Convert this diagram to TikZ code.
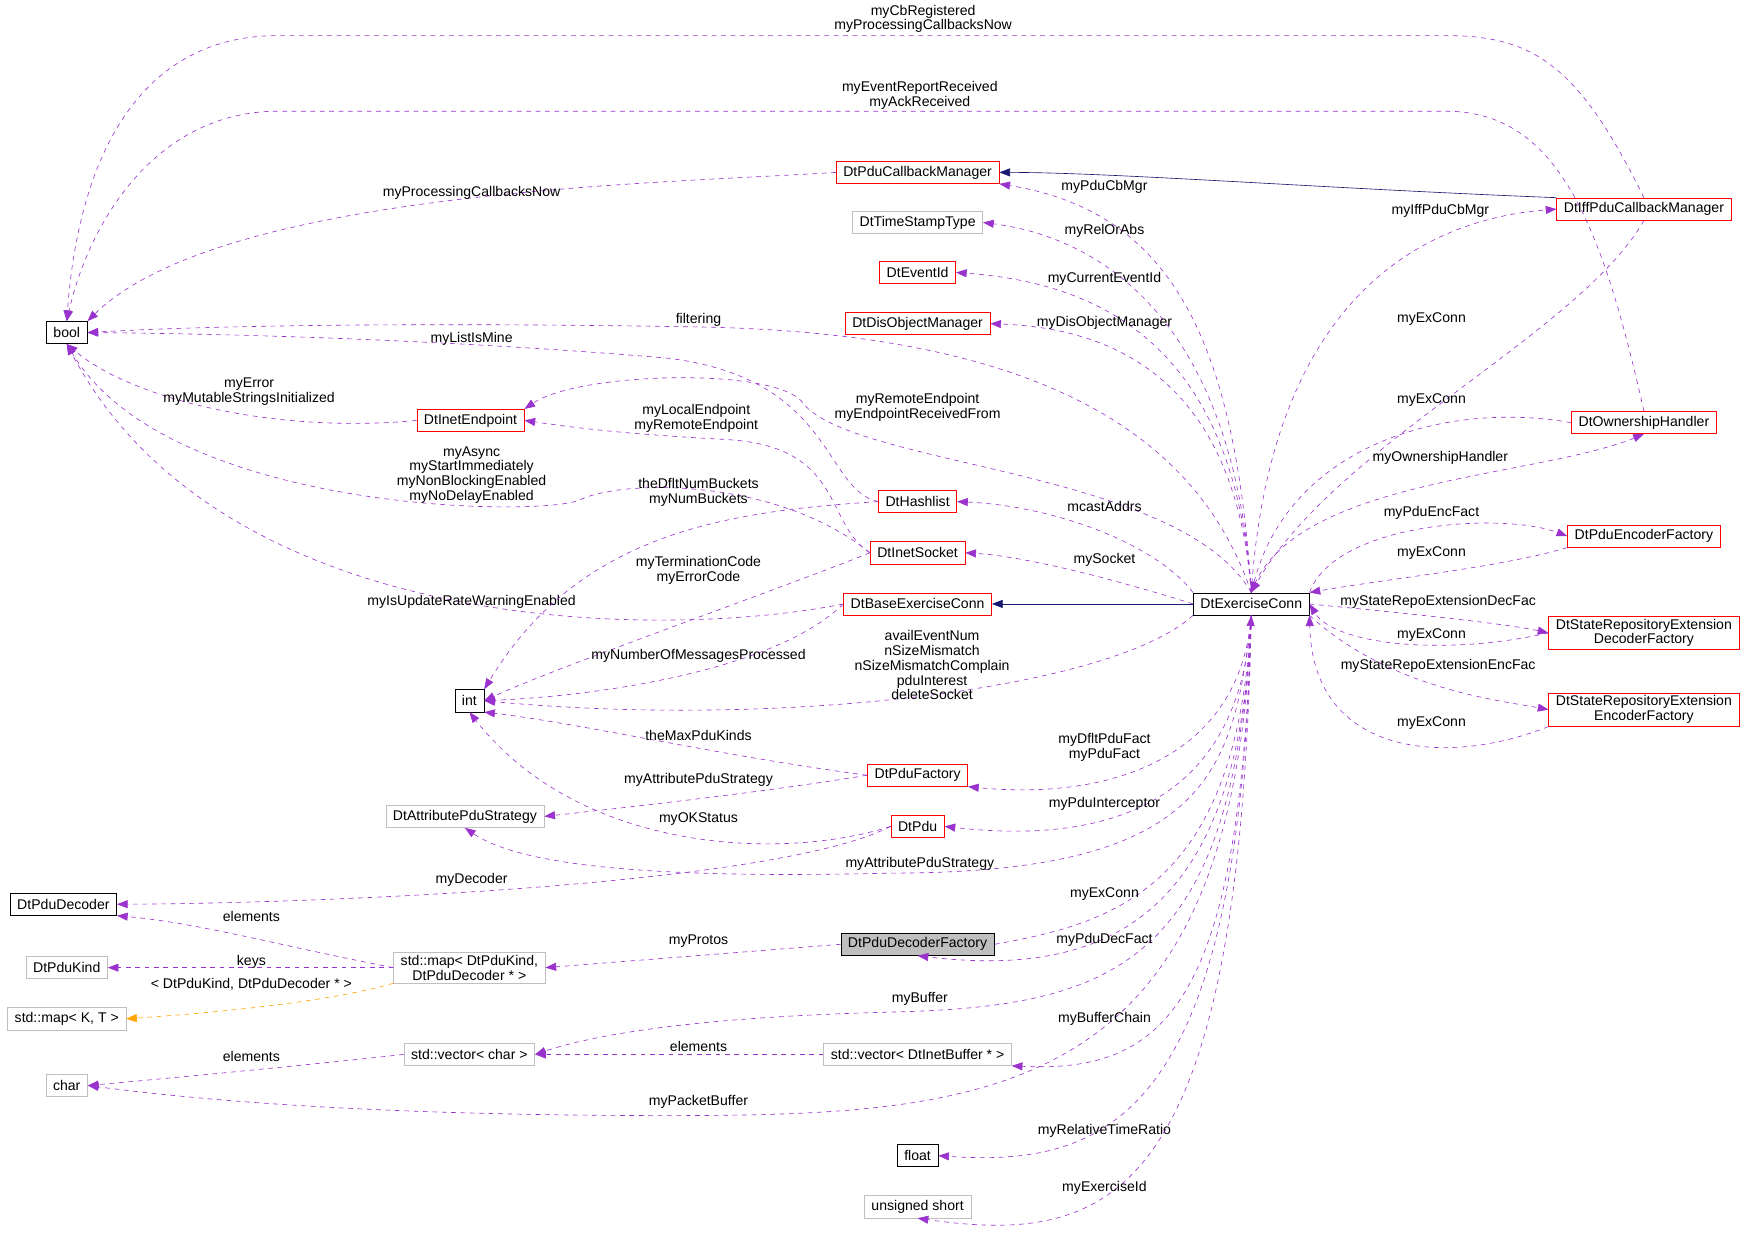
\documentclass[tikz,border=0pt]{standalone}
\usepackage{fontspec}
\setmainfont{Liberation Sans}
\usetikzlibrary{arrows.meta}
\definecolor{relc}{HTML}{9A32CD}
\definecolor{inhc}{HTML}{191970}
\definecolor{tplc}{HTML}{FFA500}
\definecolor{grayc}{HTML}{BFBFBF}
\begin{document}
\begin{tikzpicture}[
    x=0.25mm, y=-0.25mm,
    cls/.style={
        rectangle,
        draw=black,
        minimum height=5mm,
        inner xsep=1.6mm,
        inner ysep=0.6mm,
        font=\fontsize{9}{9.5}\selectfont,
        align=center
    },
    red/.style={cls, draw=red},
    ext/.style={cls, draw=grayc},
    lbl/.style={font=\fontsize{9}{9.5}\selectfont, align=center, inner sep=0pt},
    rel/.style={draw=relc, dashed, -{Triangle[length=2.4mm,width=1.8mm]}},
    inh/.style={draw=inhc, -{Triangle[length=2.4mm,width=1.8mm]}},
    tpl/.style={draw=tplc, dashed, -{Triangle[length=2.4mm,width=1.8mm]}}
]
\useasboundingbox (0,0) rectangle (1568,1114);

% left column
\node[cls] (bool) at (60,299) {bool};
\node[cls] (int) at (422,630) {int};
\node[cls] (pdec) at (57,813) {DtPduDecoder};
\node[ext] (pkind) at (60,870) {DtPduKind};
\node[ext] (mapkt) at (60,916) {std::map< K, T >};
\node[ext] (chr) at (60,976) {char};
\node[red] (iep) at (423,378) {DtInetEndpoint};
\node[ext] (aps) at (418,734) {DtAttributePduStrategy};
\node[ext] (mapk) at (422,870) {std::map< DtPduKind,\\DtPduDecoder * >};
\node[ext] (vchar) at (422,948) {std::vector< char >};

% middle column
\node[red] (pcm) at (825,155) {DtPduCallbackManager};
\node[ext] (tst) at (825,200) {DtTimeStampType};
\node[red] (evid) at (825,245) {DtEventId};
\node[red] (dom) at (825,291) {DtDisObjectManager};
\node[red] (hl) at (825,451) {DtHashlist};
\node[red] (isock) at (825,497) {DtInetSocket};
\node[red] (bec) at (825,543) {DtBaseExerciseConn};
\node[red] (pfac) at (825,697) {DtPduFactory};
\node[red] (pdu) at (825,743) {DtPdu};
\node[cls, fill=grayc] (pdf) at (825,849) {DtPduDecoderFactory};
\node[ext] (vbuf) at (825,948) {std::vector< DtInetBuffer * >};
\node[cls] (flt) at (825,1039) {float};
\node[ext] (ushort) at (825,1085) {unsigned short};

% right side
\node[cls] (ec) at (1125,543) {DtExerciseConn};
\node[red] (ipcm) at (1478,188) {DtIffPduCallbackManager};
\node[red] (oh) at (1478,380) {DtOwnershipHandler};
\node[red] (pef) at (1478,482) {DtPduEncoderFactory};
\node[red] (srd) at (1478,569) {DtStateRepositoryExtension\\DecoderFactory};
\node[red] (sre) at (1478,638) {DtStateRepositoryExtension\\EncoderFactory};

% to bool
\draw[rel] (ipcm.north) .. controls (1420,60) and (1380,32) .. (1300,32) -- (250,32) .. controls (120,32) and (70,150) .. (bool.north)
    node[lbl] at (830,17) {myCbRegistered\\myProcessingCallbacksNow};
\draw[rel] (oh.north) .. controls (1440,200) and (1400,100) .. (1300,100) -- (250,100) .. controls (140,100) and (80,200) .. (bool.north)
    node[lbl] at (827,86) {myEventReportReceived\\myAckReceived};
\draw[rel] (pcm.west) .. controls (600,165) and (200,170) .. (bool.north east)
    node[lbl] at (424,173) {myProcessingCallbacksNow};
\draw[rel] (ec.north) .. controls (1080,400) and (950,300) .. (630,294) .. controls (400,290) and (200,292) .. (bool.east)
    node[lbl] at (628,288) {filtering};
\draw[rel] (hl.west) .. controls (740,440) and (750,340) .. (600,322) .. controls (400,305) and (200,300) .. (bool.east)
    node[lbl] at (424,305) {myListIsMine};
\draw[rel] (iep.west) .. controls (250,390) and (120,360) .. (bool.south)
    node[lbl] at (224,352) {myError\\myMutableStringsInitialized};
\draw[rel] (isock.west) .. controls (700,430) and (560,430) .. (520,450) .. controls (480,465) and (150,460) .. (bool.south)
    node[lbl] at (424,427) {myAsync\\myStartImmediately\\myNonBlockingEnabled\\myNoDelayEnabled};
\draw[rel] (bec.west) .. controls (600,575) and (200,575) .. (bool.south)
    node[lbl] at (424,541) {myIsUpdateRateWarningEnabled};

% to DtInetEndpoint
\draw[rel] (ec.north) .. controls (1060,420) and (760,420) .. (720,360) .. controls (690,330) and (520,335) .. (iep.north east)
    node[lbl] at (825,366) {myRemoteEndpoint\\myEndpointReceivedFrom};
\draw[rel] (isock.west) .. controls (740,470) and (760,400) .. (650,395) .. controls (560,390) and (520,385) .. (iep.east)
    node[lbl] at (626,376) {myLocalEndpoint\\myRemoteEndpoint};

% to int
\draw[rel] (hl.west) .. controls (650,460) and (520,480) .. (int.north east)
    node[lbl] at (628,443) {theDfltNumBuckets\\myNumBuckets};
\draw[rel] (isock.west) .. controls (700,530) and (500,600) .. (int.east)
    node[lbl] at (628,513) {myTerminationCode\\myErrorCode};
\draw[rel] (bec.west) .. controls (700,600) and (550,625) .. (int.east)
    node[lbl] at (628,590) {myNumberOfMessagesProcessed};
\draw[rel] (ec.south west) .. controls (1000,620) and (700,655) .. (int.east)
    node[lbl] at (838,598) {availEventNum\\nSizeMismatch\\nSizeMismatchComplain\\pduInterest\\deleteSocket};
\draw[rel] (pfac.west) .. controls (650,680) and (520,650) .. (int.south east)
    node[lbl] at (628,661) {theMaxPduKinds};
\draw[rel] (pdu.west) .. controls (700,775) and (520,765) .. (int.south)
    node[lbl] at (628,736) {myOKStatus};

% to DtAttributePduStrategy
\draw[rel] (pfac.west) .. controls (700,710) and (600,722) .. (aps.east)
    node[lbl] at (628,701) {myAttributePduStrategy};
\draw[rel] (ec.south) .. controls (1110,700) and (1080,785) .. (800,785) .. controls (600,790) and (470,780) .. (aps.south)
    node[lbl] at (827,777) {myAttributePduStrategy};

% decoder side
\draw[rel] (pdu.west) .. controls (700,795) and (300,812) .. (pdec.east)
    node[lbl] at (424,791) {myDecoder};
\draw[rel] (mapk.west) .. controls (250,850) and (180,830) .. (pdec.south east)
    node[lbl] at (226,824) {elements};
\draw[rel] (mapk.west) -- (pkind.east)
    node[lbl] at (226,865) {keys};
\draw[tpl] (mapk.south west) .. controls (300,900) and (200,910) .. (mapkt.east)
    node[lbl] at (226,885) {< DtPduKind, DtPduDecoder * >};
\draw[rel] (pdf.west) -- (mapk.east)
    node[lbl] at (628,846) {myProtos};

% buffers
\draw[rel] (ec.south) .. controls (1110,870) and (1000,905) .. (800,910) .. controls (600,915) and (520,935) .. (vchar.east)
    node[lbl] at (827,898) {myBuffer};
\draw[rel] (vbuf.west) -- (vchar.east)
    node[lbl] at (628,941) {elements};
\draw[rel] (vchar.west) .. controls (300,955) and (200,965) .. (chr.east)
    node[lbl] at (226,950) {elements};
\draw[rel] (ec.south) .. controls (1110,985) and (900,1003) .. (600,1003) .. controls (300,1003) and (150,985) .. (chr.east)
    node[lbl] at (628,991) {myPacketBuffer};

% from DtExerciseConn to the middle column
\draw[rel] (ec.north) .. controls (1110,300) and (1050,190) .. (pcm.south east)
    node[lbl] at (993,168) {myPduCbMgr};
\draw[rel] (ec.north) .. controls (1110,300) and (1000,215) .. (tst.east)
    node[lbl] at (993,208) {myRelOrAbs};
\draw[rel] (ec.north) .. controls (1110,320) and (1000,255) .. (evid.east)
    node[lbl] at (993,251) {myCurrentEventId};
\draw[rel] (ec.north) .. controls (1110,340) and (1000,295) .. (dom.east)
    node[lbl] at (993,290) {myDisObjectManager};
\draw[rel] (ec.north west) .. controls (1040,490) and (950,455) .. (hl.east)
    node[lbl] at (993,455) {mcastAddrs};
\draw[rel] (ec.west) .. controls (1000,520) and (920,500) .. (isock.east)
    node[lbl] at (993,503) {mySocket};
\draw[inh] (ec.west) -- (bec.east);
\draw[inh] (ipcm.north west) .. controls (1200,170) and (1000,155) .. (pcm.east);
\draw[rel] (ec.south) .. controls (1115,680) and (1000,720) .. (pfac.south east)
    node[lbl] at (993,672) {myDfltPduFact\\myPduFact};
\draw[rel] (ec.south) .. controls (1115,720) and (1000,760) .. (pdu.east)
    node[lbl] at (993,723) {myPduInterceptor};
\draw[rel] (pdf.east) .. controls (1000,830) and (1110,800) .. (ec.south)
    node[lbl] at (993,804) {myExConn};
\draw[rel] (ec.south) .. controls (1115,820) and (1000,880) .. (pdf.south)
    node[lbl] at (993,845) {myPduDecFact};
\draw[rel] (ec.south) .. controls (1115,900) and (1050,965) .. (vbuf.south east)
    node[lbl] at (993,916) {myBufferChain};
\draw[rel] (ec.south) .. controls (1115,1000) and (1000,1050) .. (flt.east)
    node[lbl] at (993,1017) {myRelativeTimeRatio};
\draw[rel] (ec.south) .. controls (1115,1080) and (1000,1120) .. (ushort.south)
    node[lbl] at (993,1068) {myExerciseId};

% right side pairs
\draw[rel] (ec.north) .. controls (1140,300) and (1250,200) .. (ipcm.west)
    node[lbl] at (1295,190) {myIffPduCbMgr};
\draw[rel] (ipcm.south) .. controls (1420,300) and (1200,400) .. (ec.north)
    node[lbl] at (1287,287) {myExConn};
\draw[rel] (oh.west) .. controls (1300,360) and (1160,400) .. (ec.north)
    node[lbl] at (1287,360) {myExConn};
\draw[rel] (ec.north) .. controls (1160,430) and (1380,430) .. (oh.south)
    node[lbl] at (1295,412) {myOwnershipHandler};
\draw[rel] (ec.north east) .. controls (1200,470) and (1350,460) .. (pef.west)
    node[lbl] at (1287,461) {myPduEncFact};
\draw[rel] (pef.south west) .. controls (1350,510) and (1250,520) .. (ec.north east)
    node[lbl] at (1287,497) {myExConn};
\draw[rel] (ec.east) .. controls (1250,550) and (1350,560) .. (srd.west)
    node[lbl] at (1293,541) {myStateRepoExtensionDecFac};
\draw[rel] (srd.west) .. controls (1300,590) and (1200,580) .. (ec.east)
    node[lbl] at (1287,571) {myExConn};
\draw[rel] (ec.south east) .. controls (1250,620) and (1350,630) .. (sre.west)
    node[lbl] at (1293,599) {myStateRepoExtensionEncFac};
\draw[rel] (sre.south west) .. controls (1300,690) and (1180,680) .. (ec.south east)
    node[lbl] at (1287,650) {myExConn};
\end{tikzpicture}
\end{document}
